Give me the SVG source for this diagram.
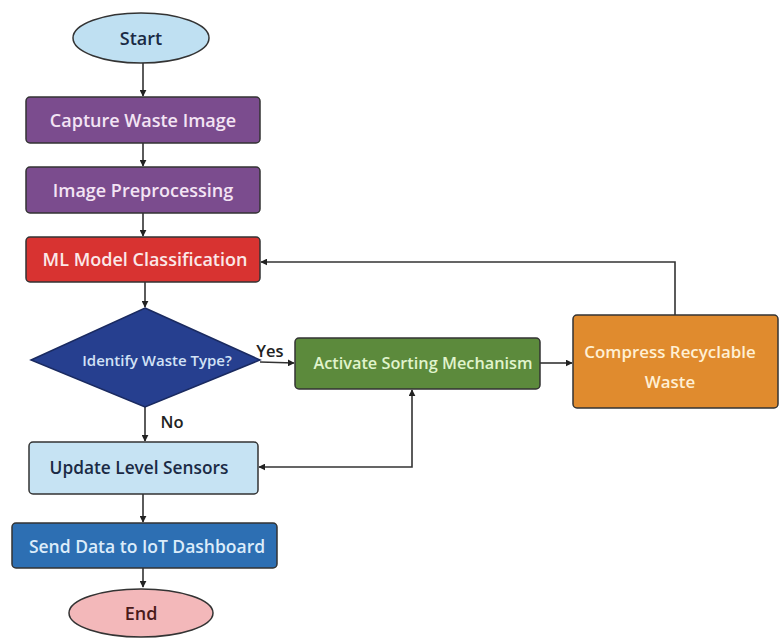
<svg xmlns="http://www.w3.org/2000/svg" width="779" height="641" viewBox="0 0 779 641">
<defs>
<marker id="ah" viewBox="0 0 10 10" refX="9" refY="5" markerWidth="7" markerHeight="7" orient="auto-start-reverse" markerUnits="userSpaceOnUse">
<path d="M0,0 L10,5 L0,10 z" fill="#222"/>
</marker>
<style>
.t{font-family:"Open Sans","Noto Sans","Liberation Sans",sans-serif;font-weight:600;text-anchor:middle;dominant-baseline:central}
.c{fill:none;stroke:#333;stroke-width:1.6}
.b{stroke:#333;stroke-width:1.5}
</style>
</defs>
<rect width="779" height="641" fill="#ffffff"/>
<g id="connectors">
<line class="c" x1="143" y1="63" x2="143" y2="96" marker-end="url(#ah)"/>
<line class="c" x1="143" y1="143" x2="143" y2="166" marker-end="url(#ah)"/>
<line class="c" x1="143" y1="213" x2="143" y2="236" marker-end="url(#ah)"/>
<line class="c" x1="145" y1="282" x2="145" y2="307" marker-end="url(#ah)"/>
<line class="c" x1="145" y1="407" x2="145" y2="441" marker-end="url(#ah)"/>
<line class="c" x1="143" y1="494" x2="143" y2="522" marker-end="url(#ah)"/>
<line class="c" x1="143" y1="568" x2="143" y2="587" marker-end="url(#ah)"/>
<line class="c" x1="260" y1="362" x2="294" y2="363" marker-end="url(#ah)"/>
<line class="c" x1="540" y1="363" x2="572" y2="363" marker-end="url(#ah)"/>
<polyline class="c" points="675,315 675,262 261,262" marker-end="url(#ah)"/>
<polyline class="c" points="259,467 412,467 412,390" marker-start="url(#ah)" marker-end="url(#ah)"/>
<text class="t" x="270" y="350" fill="#222" font-size="16.5">Yes</text>
<text class="t" x="172" y="421" fill="#222" font-size="16.5">No</text>
</g>
<g id="start">
<ellipse cx="141" cy="38" rx="68" ry="25" fill="#bfe0f2" class="b"/>
<text class="t" x="141" y="38" fill="#1a2a44" font-size="18">Start</text>
</g>
<g id="capture">
<rect x="26" y="97" width="234" height="46" rx="4" fill="#7b4c8e" class="b"/>
<text class="t" x="143" y="120" fill="#f3e4f4" font-size="18">Capture Waste Image</text>
</g>
<g id="preprocess">
<rect x="26" y="167" width="234" height="46" rx="4" fill="#7b4c8e" class="b"/>
<text class="t" x="143" y="190" fill="#f3e4f4" font-size="18">Image Preprocessing</text>
</g>
<g id="ml">
<rect x="26" y="237" width="234" height="45" rx="4" fill="#d83331" class="b"/>
<text class="t" x="145" y="259" fill="#fbe8e8" font-size="18">ML Model Classification</text>
</g>
<g id="decision">
<polygon points="145,308 260,360 145,407 31,360" fill="#263f8f" stroke="#1a2a60" stroke-width="1.5"/>
<text class="t" x="157" y="360" fill="#d2e2f6" font-size="15">Identify Waste Type?</text>
</g>
<g id="sorting">
<rect x="295" y="338" width="245" height="51" rx="4" fill="#5c8a3c" class="b"/>
<text class="t" x="423" y="363" fill="#e0f4cc" font-size="16.3">Activate Sorting Mechanism</text>
</g>
<g id="compress">
<rect x="573" y="315" width="205" height="93" rx="4" fill="#e08b2e" class="b"/>
<text class="t" x="670" y="351" fill="#fff0d4" font-size="16.9">Compress Recyclable</text>
<text class="t" x="670" y="381" fill="#fff0d4" font-size="16.9">Waste</text>
</g>
<g id="update">
<rect x="29" y="442" width="229" height="52" rx="4" fill="#c6e3f3" class="b"/>
<text class="t" x="139" y="467" fill="#1a2a44" font-size="17.3">Update Level Sensors</text>
</g>
<g id="send">
<rect x="12" y="523" width="265" height="45" rx="4" fill="#2d6fb3" class="b"/>
<text class="t" x="147" y="546" fill="#dcecfa" font-size="17.5">Send Data to IoT Dashboard</text>
</g>
<g id="end">
<ellipse cx="141" cy="613" rx="72" ry="24" fill="#f3b8ba" class="b"/>
<text class="t" x="141" y="613" fill="#4a1a1a" font-size="18">End</text>
</g>
</svg>
